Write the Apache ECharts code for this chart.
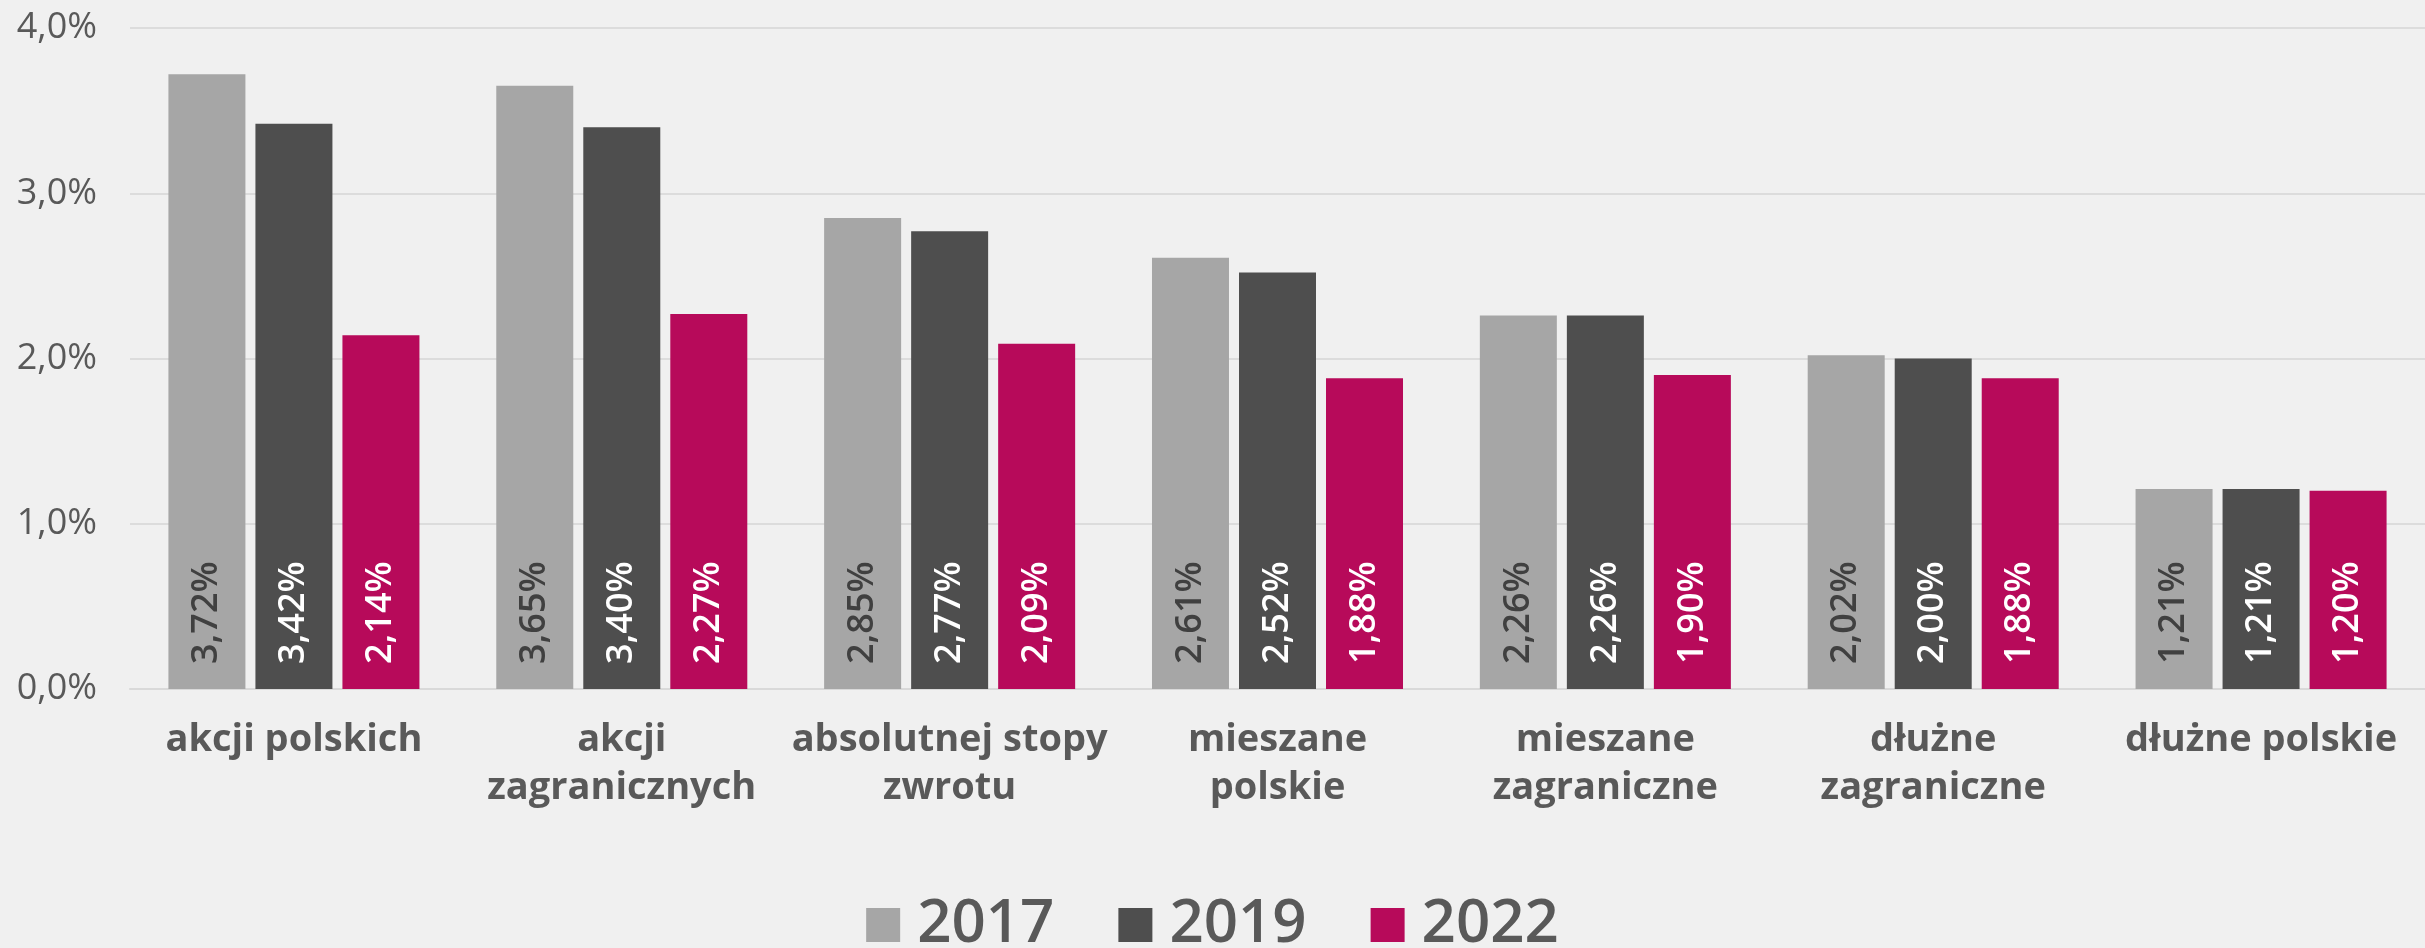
<!DOCTYPE html>
<html>
<head>
<meta charset="utf-8">
<script src="https://cdn.jsdelivr.net/npm/echarts@6/dist/echarts.min.js"></script>
<style>
  html, body { margin: 0; padding: 0; background: #f0f0f0; }
  #chart { width: 2425px; height: 948px; }
</style>
</head>
<body>
<div id="chart"></div>
<script>
const categories = [
  "akcji polskich",
  "akcji\nzagranicznych",
  "absolutnej stopy\nzwrotu",
  "mieszane\npolskie",
  "mieszane\nzagraniczne",
  "dłużne\nzagraniczne",
  "dłużne polskie"
];
const years = ["2017", "2019", "2022"];
const values2017 = [3.72, 3.65, 2.85, 2.61, 2.26, 2.02, 1.21];
const values2019 = [3.42, 3.40, 2.77, 2.52, 2.26, 2.00, 1.21];
const values2022 = [2.14, 2.27, 2.09, 1.88, 1.90, 1.88, 1.20];
const yTicks = [0, 1, 2, 3, 4];

const font = "'Open Sans', Lato, sans-serif";
const colors = ["#a6a6a6", "#4e4e4e", "#b70a5a"];
const labelColors = ["#404040", "#ffffff", "#ffffff"];

const pct = (v, d) => v.toFixed(d).replace(".", ",") + "%";

const makeSeries = (name, data, i) => ({
  name: name,
  type: "bar",
  data: data,
  barWidth: 77,
  barGap: "13%",
  itemStyle: { color: colors[i] },
  label: {
    show: true,
    position: "insideBottom",
    rotate: 90,
    align: "left",
    verticalAlign: "middle",
    distance: 25,
    color: labelColors[i],
    fontFamily: font,
    fontWeight: 600,
    fontSize: 36,
    formatter: (p) => pct(p.value, 2)
  }
});

const chart = echarts.init(document.getElementById("chart"));
chart.setOption({
  backgroundColor: "#f0f0f0",
  animation: false,
  grid: { left: 130, right: 0, top: 28, bottom: 259, containLabel: false },
  legend: {
    data: years,
    left: "center",
    top: 890,
    icon: "rect",
    itemWidth: 34,
    itemHeight: 34,
    itemGap: 64,
    textStyle: { color: "#595959", fontFamily: font, fontWeight: 600, fontSize: 60, padding: [0, 0, 0, 12] }
  },
  xAxis: {
    type: "category",
    data: categories,
    axisLine: { lineStyle: { color: "#d9d9d9", width: 2 } },
    axisTick: { show: false },
    axisLabel: {
      color: "#595959",
      fontFamily: font,
      fontWeight: "bold",
      fontSize: 38,
      lineHeight: 48,
      margin: 27,
      interval: 0
    }
  },
  yAxis: {
    type: "value",
    min: yTicks[0],
    max: yTicks[yTicks.length - 1],
    interval: 1,
    axisLine: { show: false },
    axisTick: { show: false },
    splitLine: { lineStyle: { color: "#dcdcdc", width: 2 } },
    axisLabel: {
      color: "#595959",
      fontFamily: font,
      fontSize: 36,
      margin: 33,
      formatter: (v) => pct(v, 1)
    }
  },
  series: [
    makeSeries(years[0], values2017, 0),
    makeSeries(years[1], values2019, 1),
    makeSeries(years[2], values2022, 2)
  ]
});
</script>
</body>
</html>
